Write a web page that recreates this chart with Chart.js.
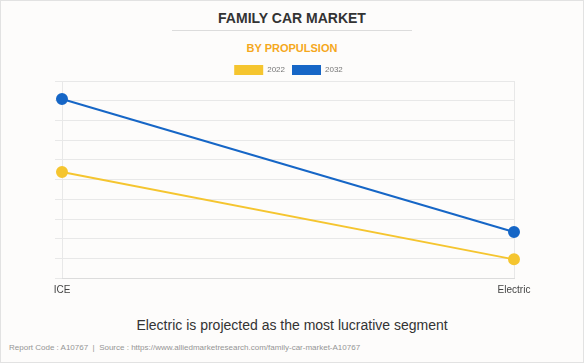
<!DOCTYPE html>
<html>
<head>
<meta charset="utf-8">
<script src="https://cdn.jsdelivr.net/npm/chart.js@4.4.1/dist/chart.umd.min.js"></script>
<style>
  html, body { margin: 0; padding: 0; }
  body { width: 584px; height: 363px; position: relative; background: #fdfcfb; font-family: "Liberation Sans", Arial, sans-serif; overflow: hidden; }
  #frame { position: absolute; left: 0; top: 0; width: 582px; height: 361px; border: 1px solid #e2e2e2; }
  .t { position: absolute; white-space: nowrap; line-height: 1; }
  #title { left: 0; width: 584px; text-align: center; top: 10.5px; font-size: 14px; font-weight: bold; color: #333; }
  #rule { position: absolute; left: 172px; width: 240px; top: 30px; height: 1px; background: #dcdcdc; }
  #sub { left: 0; width: 584px; text-align: center; top: 43px; font-size: 11px; font-weight: bold; color: #f5a81c; }
  #foot { left: 0; width: 584px; text-align: center; top: 318.4px; font-size: 14px; color: #333; }
  #src { left: 9px; top: 343.9px; font-size: 8px; color: #959595; }
  #wrap { position: absolute; left: 0; top: 56px; width: 584px; height: 250px; }
</style>
</head>
<body>
<div id="frame"></div>
<div class="t" id="title">FAMILY CAR MARKET</div>
<div id="rule"></div>
<div class="t" id="sub">BY PROPULSION</div>
<div id="wrap"><canvas id="c" width="584" height="250"></canvas></div>
<div class="t" id="foot">Electric is projected as the most lucrative segment</div>
<div class="t" id="src">Report Code : A10767 &nbsp;| &nbsp;Source : https://www.alliedmarketresearch.com/family-car-market-A10767</div>
<script>
const categories = ["ICE", "Electric"];
const seriesNames = ["2022", "2032"];
const values2022 = [5.39, 0.96];
const values2032 = [9.09, 2.35];
const yTicks = [0, 1, 2, 3, 4, 5, 6, 7, 8, 9, 10];

const colors = { "2022": "#f5c52f", "2032": "#1666c6" };

const legendHeight = {
  id: "legendHeight",
  beforeInit(chart) {
    const origFit = chart.legend.fit;
    chart.legend.fit = function () {
      origFit.bind(chart.legend)();
      this.height = 23;
    };
  },
  afterLayout(chart) {
    chart.legend.left += 4;
    chart.legend.right += 4;
  }
};

new Chart(document.getElementById("c"), {
  type: "line",
  data: {
    labels: categories,
    datasets: [
      { label: seriesNames[0], data: values2022, borderColor: colors["2022"], backgroundColor: colors["2022"],
        borderWidth: 2, pointRadius: 5, pointHoverRadius: 5, pointBackgroundColor: colors["2022"], pointBorderColor: colors["2022"], tension: 0, fill: false },
      { label: seriesNames[1], data: values2032, borderColor: colors["2032"], backgroundColor: colors["2032"],
        borderWidth: 2, pointRadius: 5, pointHoverRadius: 5, pointBackgroundColor: colors["2032"], pointBorderColor: colors["2032"], tension: 0, fill: false }
    ]
  },
  options: {
    responsive: false,
    animation: false,
    devicePixelRatio: 1,
    layout: { padding: { left: 55, right: 70, top: 2, bottom: 0 } },
    plugins: {
      tooltip: { enabled: false },
      legend: {
        position: "top",
        align: "center",
        labels: {
          boxWidth: 29,
          boxHeight: 10,
          padding: 7,
          color: "#777",
          font: { family: "Liberation Sans, Arial, sans-serif", size: 8 },
          generateLabels(chart) {
            const items = Chart.defaults.plugins.legend.labels.generateLabels(chart);
            items.forEach(i => { i.lineWidth = 0; i.strokeStyle = "rgba(0,0,0,0)"; });
            return items;
          }
        }
      }
    },
    scales: {
      x: {
        offset: false,
        grid: { color: "#e8e8e8", lineWidth: 1, drawTicks: false },
        border: { display: true, color: "#dcdcdc", width: 1 },
        ticks: { color: "#444", padding: 6, font: { family: "Liberation Sans, Arial, sans-serif", size: 10 }, maxRotation: 0 },
        afterFit(s) { s.height = 27.7; }
      },
      y: {
        min: yTicks[0],
        max: yTicks[yTicks.length - 1],
        afterBuildTicks(s) { s.ticks = yTicks.map(v => ({ value: v })); },
        grid: { color: "#e8e8e8", lineWidth: 1, drawTicks: true, tickLength: 7 },
        border: { display: false },
        ticks: { display: false },
        afterFit(s) { s.width = 7; }
      }
    }
  },
  plugins: [legendHeight]
});
</script>
</body>
</html>
